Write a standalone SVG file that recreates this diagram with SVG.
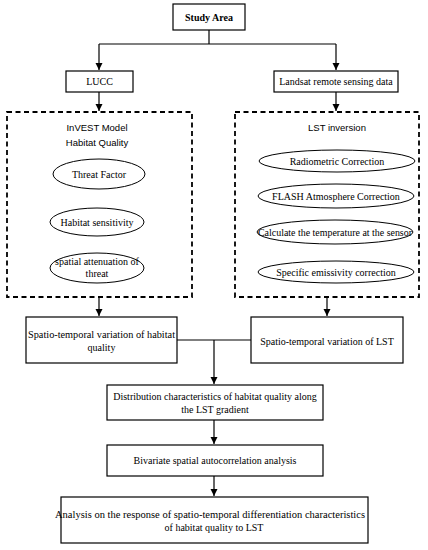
<svg xmlns="http://www.w3.org/2000/svg" width="428" height="550" viewBox="0 0 428 550">
<defs>
<marker id="ah" markerWidth="8" markerHeight="8" refX="7" refY="4" orient="auto" markerUnits="userSpaceOnUse">
<path d="M0,0.5 L7,4 L0,7.5 Z" fill="#000"/>
</marker>
<style>
.box{fill:#fff;stroke:#000;stroke-width:1.2}
.dash{fill:none;stroke:#000;stroke-width:1.8;stroke-dasharray:5,3.5}
.ell{fill:#fff;stroke:#000;stroke-width:1}
.t{font-family:"Liberation Serif","Times New Roman",serif;font-size:10px;fill:#000;text-anchor:middle}
.s{font-family:"Liberation Sans",Arial,sans-serif;font-size:9.5px;fill:#000;text-anchor:middle}
.c{fill:none;stroke:#000;stroke-width:1.2}
</style>
</defs>
<rect width="428" height="550" fill="#fff"/>
<g id="connectors">
<path class="c" d="M209,30 V44 M99,44 H336"/>
<path class="c" d="M99,44 V70" marker-end="url(#ah)"/>
<path class="c" d="M336,44 V70" marker-end="url(#ah)"/>
<path class="c" d="M99,92 V111" marker-end="url(#ah)"/>
<path class="c" d="M336,92 V111" marker-end="url(#ah)"/>
<path class="c" d="M99,297 V316" marker-end="url(#ah)"/>
<path class="c" d="M327,297 V316" marker-end="url(#ah)"/>
<path class="c" d="M177,340 H252"/>
<path class="c" d="M214,340 V384" marker-end="url(#ah)"/>
<path class="c" d="M214,420 V444" marker-end="url(#ah)"/>
<path class="c" d="M214,476 V496" marker-end="url(#ah)"/>
</g>
<g id="study-area">
<rect class="box" x="173" y="4" width="72" height="26"/>
<text class="t" x="209" y="21" font-weight="bold">Study Area</text>
</g>
<g id="lucc">
<rect class="box" x="66" y="71" width="67" height="21"/>
<text class="t" x="99.5" y="85">LUCC</text>
</g>
<g id="landsat">
<rect class="box" x="274" y="71" width="124" height="21"/>
<text class="t" x="336" y="85">Landsat remote sensing data</text>
</g>
<g id="invest">
<rect class="dash" x="7" y="112" width="185" height="185"/>
<text class="s" x="97" y="131">InVEST  Model</text>
<text class="s" x="97" y="146">Habitat Quality</text>
</g>
<g id="threat-factor">
<ellipse class="ell" cx="99" cy="174" rx="46" ry="15"/>
<text class="t" x="99" y="177.5">Threat Factor</text>
</g>
<g id="habitat-sensitivity">
<ellipse class="ell" cx="97" cy="222" rx="47" ry="14"/>
<text class="t" x="97" y="225.5">Habitat sensitivity</text>
</g>
<g id="spatial-attenuation">
<ellipse class="ell" cx="97" cy="268" rx="47" ry="15"/>
<text class="t" x="97" y="265">spatial attenuation of</text>
<text class="t" x="97" y="277">threat</text>
</g>
<g id="lst-inversion">
<rect class="dash" x="235" y="112" width="184" height="185"/>
<text class="s" x="337" y="131">LST inversion</text>
</g>
<g id="radiometric">
<ellipse class="ell" cx="337" cy="161" rx="78" ry="11"/>
<text class="t" x="337" y="164.5">Radiometric Correction</text>
</g>
<g id="flash">
<ellipse class="ell" cx="336" cy="196" rx="78" ry="12"/>
<text class="t" x="336" y="199.5">FLASH Atmosphere Correction</text>
</g>
<g id="calculate">
<ellipse class="ell" cx="335" cy="232" rx="78" ry="12"/>
<text class="t" x="335" y="235.5" textLength="154" lengthAdjust="spacingAndGlyphs">Calculate the temperature  at the sensor</text>
</g>
<g id="emissivity">
<ellipse class="ell" cx="336" cy="272" rx="78" ry="11"/>
<text class="t" x="336" y="275.5">Specific emissivity correction</text>
</g>
<g id="hq-variation">
<rect class="box" x="26" y="317" width="151" height="46"/>
<text class="t" x="101.5" y="338" textLength="147" lengthAdjust="spacingAndGlyphs">Spatio-temporal variation of habitat</text>
<text class="t" x="101.5" y="351">quality</text>
</g>
<g id="lst-variation">
<rect class="box" x="251" y="317" width="152" height="46"/>
<text class="t" x="327" y="345">Spatio-temporal variation of LST</text>
</g>
<g id="distribution">
<rect class="box" x="107" y="385" width="216" height="35"/>
<text class="t" x="215" y="400">Distribution characteristics of habitat quality along</text>
<text class="t" x="215" y="413">the LST gradient</text>
</g>
<g id="bivariate">
<rect class="box" x="107" y="445" width="216" height="31"/>
<text class="t" x="215" y="464">Bivariate spatial autocorrelation analysis</text>
</g>
<g id="analysis">
<rect class="box" x="61" y="497" width="307" height="46"/>
<text class="t" x="210" y="518" textLength="310" lengthAdjust="spacingAndGlyphs">Analysis on the response of spatio-temporal differentiation characteristics</text>
<text class="t" x="214" y="531">of habitat quality to LST</text>
</g>
</svg>
